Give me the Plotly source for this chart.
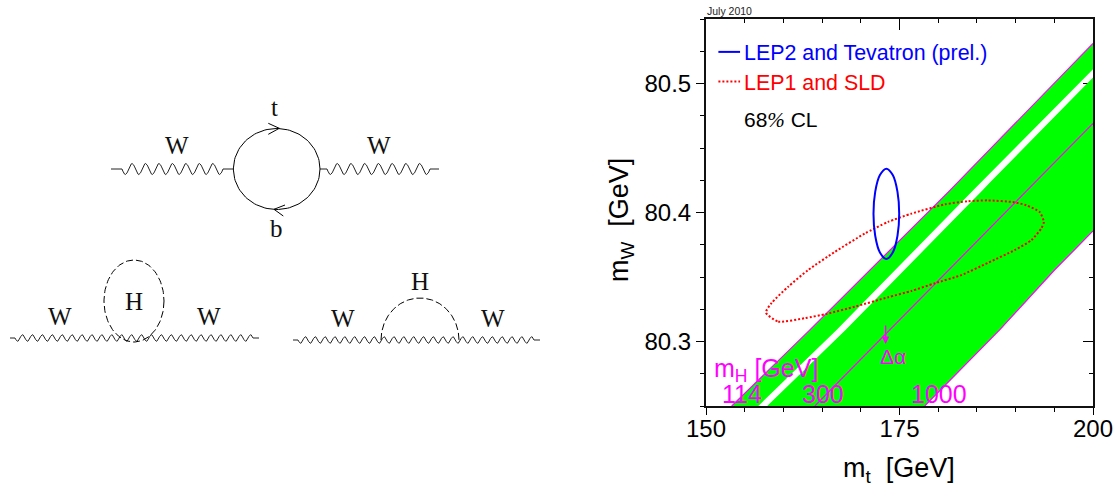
import numpy as np
import plotly.graph_objects as go

# ---- right panel data (mt in GeV, mW in GeV) ----
edge114_mt = [153.32, 163.42, 181.48, 186.65, 200.0]
edge114_mw = [80.25, 80.309, 80.417, 80.449, 80.531]
gap_low_mt = [156.75, 166.86, 184.49, 186.65, 200.0]
gap_low_mw = [80.25, 80.309, 80.417, 80.4305, 80.511]
gap_high_mt = [157.91, 168.03, 185.7, 186.65, 200.0]
gap_high_mw = [80.25, 80.309, 80.417, 80.423, 80.5046]
edge300_mt = [164.06, 173.74, 186.65, 191.55, 200.0]
edge300_mw = [80.25, 80.309, 80.387, 80.417, 80.469]
edge1000_mt = [178.26, 187.94, 195.03, 197.61, 200.0]
edge1000_mw = [80.25, 80.309, 80.3554, 80.3708, 80.3857]

lep2_mt = [174.96, 174.74, 174.13, 173.3, 172.47, 171.86, 171.64, 171.86, 172.47, 173.3, 174.13, 174.74, 174.96]
lep2_mw = [80.399, 80.416, 80.429, 80.434, 80.429, 80.416, 80.399, 80.382, 80.369, 80.364, 80.369, 80.382, 80.399]

lep1_mt = [157.74, 159.33, 162.77, 165.57, 169.23, 173.52, 176.54, 179.55, 182.99, 186.43, 189.87, 192.03, 193.32,
           193.65, 193.10, 191.38, 189.87, 186.43, 183.85, 180.84, 176.54, 173.52, 170.52, 166.65, 163.2, 160.62,
           158.48, 157.74]
lep1_mw = [80.3224, 80.3154, 80.3181, 80.3214, 80.327, 80.3343, 80.3392, 80.3451, 80.3515, 80.361, 80.3708, 80.3785,
           80.3876, 80.3927, 80.4004, 80.4056, 80.4079, 80.4094, 80.4087, 80.4063, 80.3991, 80.3927, 80.3837, 80.3695,
           80.3554, 80.3425, 80.3299, 80.3224]

x_major = [150, 175, 200]
y_major = [80.3, 80.4, 80.5]

GREEN = "#00ff00"
MAG = "#ff00ff"
EDGE = "#ff00ff"
SANS = "Liberation Sans, Arial, sans-serif"
SERIF = "Liberation Serif, Times New Roman, serif"

fig = go.Figure()


def main_trace(x, y, **kw):
    fig.add_trace(go.Scatter(x=x, y=y, xaxis="x2", yaxis="y2", showlegend=False, hoverinfo="skip", **kw))


# anchor trace for the inward tick axes
fig.add_trace(go.Scatter(x=[175], y=[80.4], mode="markers", marker=dict(opacity=0), showlegend=False,
                         hoverinfo="skip"))

main_trace(edge114_mt + gap_low_mt[::-1], edge114_mw + gap_low_mw[::-1], mode="lines", fill="toself",
           fillcolor=GREEN, line=dict(width=0))
main_trace(gap_high_mt + edge1000_mt[::-1], gap_high_mw + edge1000_mw[::-1], mode="lines", fill="toself",
           fillcolor=GREEN, line=dict(width=0))
for ex, ey in [(edge114_mt, edge114_mw), (edge300_mt, edge300_mw), (edge1000_mt, edge1000_mw)]:
    main_trace(ex, ey, mode="lines", line=dict(color=EDGE, width=1.2))
main_trace(lep1_mt, lep1_mw, mode="lines", line=dict(color="#ff0000", width=2, dash="2px,2px", shape="spline", smoothing=0.6))
main_trace(lep2_mt, lep2_mw, mode="lines", line=dict(color="#0000ff", width=2, shape="spline", smoothing=1))
main_trace([151.6, 154.4], [80.5245, 80.5245], mode="lines", line=dict(color="#0000ff", width=2))
main_trace([151.6, 154.4], [80.5015, 80.5015], mode="lines", line=dict(color="#ff0000", width=2, dash="2px,2px"))

# ---- left panel: Feynman diagrams, on an axis of their own ----
TOP_Y = 169
LOW_Y_A = 338
LOW_Y_B = 340


def diagram(x, y, color="black", width=1, dash=None):
    fig.add_trace(go.Scatter(x=x, y=y, xaxis="x3", yaxis="y3", mode="lines", showlegend=False, hoverinfo="skip",
                             line=dict(color=color, width=width, dash=dash)))


def wiggle(x0, x1, y, periods, amp, lead=0.0, tail=0.0):
    t = np.linspace(0, 1, int(periods * 16) + 1)
    xs = x0 + lead + (x1 - x0 - lead - tail) * t
    ys = y + amp * np.sin(2 * np.pi * periods * t)
    diagram([x0] + xs.tolist() + [x1], [y] + ys.tolist() + [y], color="#222222", width=1)


def ellipse(cx, cy, rx, ry, a0=0.0, a1=2 * np.pi, dash=None):
    a = np.linspace(a0, a1, 120)
    diagram((cx + rx * np.cos(a)).tolist(), (cy + ry * np.sin(a)).tolist(), dash=dash)


wiggle(111, 233, TOP_Y, 7.5, 5.5, 11, 10)
wiggle(320, 439, TOP_Y, 7.5, 5.5, 7, 9)
ellipse(276.7, TOP_Y, 43.3, 40.5)
diagram([268.3, 279.3, 268.3], [123.3, 128.3, 134.3])
diagram([285, 274, 283.3], [205, 209.3, 216])

wiggle(10, 259, LOW_Y_A, 24, 3.3, 5, 6)
ellipse(134, 301, 30, 41, dash="7px,3px")
wiggle(293, 540, LOW_Y_B, 24, 3.3, 5, 6)
ellipse(420, LOW_Y_B, 39, 42, np.pi, 2 * np.pi, dash="7px,3px")

diagram_labels = [("W", 176.7, 145.7), ("W", 379, 145.7), ("t", 274, 107), ("b", 276.7, 228.3),
                  ("W", 60, 316), ("H", 134, 301), ("W", 209, 316),
                  ("W", 343, 318), ("H", 420, 281), ("W", 493, 318)]
annotations = [dict(text=t, x=x, y=y, xref="x3", yref="y3", showarrow=False, xanchor="center", yanchor="middle",
                    font=dict(family=SERIF, size=25, color="#111111")) for t, x, y in diagram_labels]


def note(text, x, y, size, color, anchor="left"):
    annotations.append(dict(text=text, x=x, y=y, xref="x2", yref="y2", showarrow=False, xanchor=anchor,
                            yanchor="middle", font=dict(family=SANS, size=size, color=color)))


note("LEP2 and Tevatron (prel.)", 154.65, 80.5235, 21.4, "#0000ff")
note("LEP1 and SLD", 154.65, 80.5005, 21.4, "#ff0000")
note('68<span style="font-family:Liberation Serif"><i>%</i></span> CL', 154.65, 80.4715, 21, "#000000")
note("m<sub>H</sub> [GeV]", 150.8, 80.278, 25, MAG)
note("114", 151.8, 80.2595, 25, MAG)
note("300", 162.2, 80.2595, 25, MAG)
note("1000", 176.2, 80.2595, 25, MAG)
note("Δα", 172.2, 80.288, 21, MAG)
annotations.append(dict(text="", x=173.2, y=80.298, ax=173.2, ay=80.3135, xref="x2", yref="y2", axref="x2", ayref="y2",
                        showarrow=True, arrowhead=2, arrowsize=1, arrowwidth=1.5, arrowcolor=MAG))
# paper-placed texts
annotations.append(dict(text="July 2010", x=705 / 1119, y=1 - 11 / 490, xref="paper", yref="paper", xanchor="left",
                        yanchor="middle", showarrow=False, font=dict(family=SANS, size=10.5, color="#222222")))
annotations.append(dict(text="m<sub>t</sub>\u00a0\u00a0[GeV]", x=899 / 1119, y=1 - 470 / 490, xref="paper", yref="paper",
                        xanchor="center", yanchor="middle", showarrow=False,
                        font=dict(family=SANS, size=27, color="black")))
annotations.append(dict(text="m<sub>W</sub>\u00a0\u00a0[GeV]", x=621 / 1119, y=1 - 220 / 490, xref="paper", yref="paper",
                        xanchor="center", yanchor="middle", textangle=-90, showarrow=False,
                        font=dict(family=SANS, size=27, color="black")))

dom_x = [706 / 1119, 1093 / 1119]
dom_y = [1 - 406 / 490, 1 - 19 / 490]
xr = [150, 200]
yr = [80.25, 80.55]

fig.update_layout(
    width=1119, height=490, margin=dict(l=0, r=0, t=0, b=0, autoexpand=False), paper_bgcolor="white", plot_bgcolor="white",
    showlegend=False, annotations=annotations,
    # inward ticks on the top and right, painted under the green band
    xaxis=dict(domain=dom_x, range=xr, side="top", anchor="y", showgrid=False, zeroline=False, showticklabels=False,
               ticks="inside", ticklen=11, tickwidth=1, tickcolor="black", tickvals=x_major, layer="below traces",
               showline=False, minor=dict(dtick=5, tick0=150, ticks="inside", ticklen=4, tickwidth=1, tickcolor="black", showgrid=False)),
    yaxis=dict(domain=dom_y, range=yr, side="right", anchor="x", showgrid=False, zeroline=False, showticklabels=False,
               ticks="inside", ticklen=10, tickwidth=1, tickcolor="black", tickvals=y_major, layer="below traces",
               showline=False, minor=dict(dtick=0.025, tick0=80.25, ticks="inside", ticklen=4, tickwidth=1, tickcolor="black", showgrid=False)),
    xaxis2=dict(domain=dom_x, range=xr, overlaying="x", side="bottom", anchor="y2", showgrid=False, zeroline=False,
                ticks="outside", ticklen=7, tickwidth=1, tickcolor="black", tickvals=x_major,
                ticktext=[str(v) for v in x_major], showline=True, mirror=True, linecolor="#111111", linewidth=2,
                tickfont=dict(family=SANS, size=24, color="black"), ticklabelstandoff=-7,
                minor=dict(dtick=5, tick0=150, ticks="outside", ticklen=4, tickwidth=1, tickcolor="black", showgrid=False)),
    yaxis2=dict(domain=dom_y, range=yr, overlaying="y", side="left", anchor="x2", showgrid=False, zeroline=False,
                ticks="outside", ticklen=8, tickwidth=1, tickcolor="black", tickvals=y_major,
                ticktext=[f"{v:.1f}" for v in y_major], showline=True, mirror=True, linecolor="#111111", linewidth=2,
                tickfont=dict(family=SANS, size=24, color="black"),
                minor=dict(dtick=0.025, tick0=80.25, ticks="outside", ticklen=4, tickwidth=1, tickcolor="black", showgrid=False)),
    xaxis3=dict(domain=[0, 0.6], range=[0, 671.4], anchor="y3", visible=False, fixedrange=True),
    yaxis3=dict(domain=[0, 1], range=[490, 0], anchor="x3", visible=False, fixedrange=True),
)

fig.write_html("out.html", config=dict(displayModeBar=False), post_script="document.body.style.margin='0';")
